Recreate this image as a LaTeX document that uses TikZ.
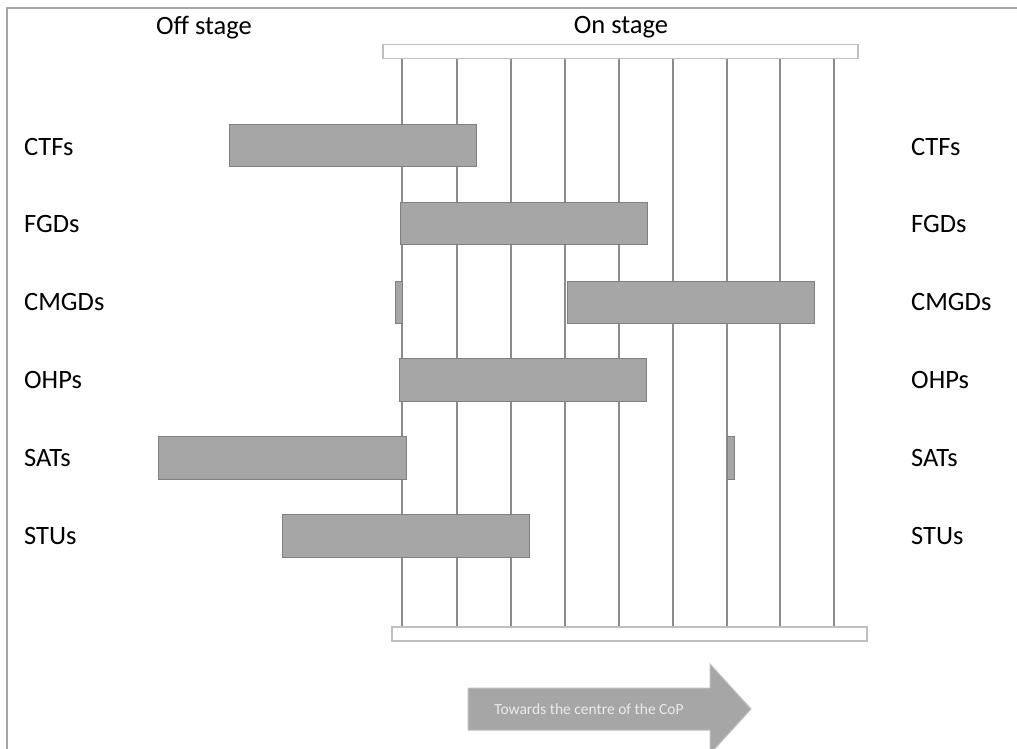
\documentclass[tikz,border=0pt]{standalone}
\usepackage{fontspec}
\setmainfont{Carlito}
\begin{document}
\begin{tikzpicture}[x=1pt,y=-1pt,
  bar/.style={draw=black!50,fill=black!35,line width=1pt},
  plank/.style={draw=black!25,fill=white,line width=1.5pt},
  vline/.style={draw=black!45,line width=2pt},
  lab/.style={font=\fontsize{26.5}{30}\selectfont,anchor=west,inner sep=0pt},
  head/.style={font=\fontsize{26.5}{30}\selectfont,inner sep=0pt}]
\useasboundingbox (0,0) rectangle (1017,749);
\draw[black!35,line width=2pt] (6.5,749) -- (6.5,8.5) -- (1017,8.5);
% vertical lines
\foreach \x/\n in {402/a,457/b,511/c,565/d,619/e,673/f,727/g,780/h,834/i}{
  \coordinate (t\n) at (\x,59);
  \coordinate (b\n) at (\x,627);
  \draw[vline] (t\n) -- (b\n);
}
% planks
\node[plank,minimum width=475pt,minimum height=14pt,inner sep=0pt] (top) at (620.5,51.5) {};
\node[plank,minimum width=475pt,minimum height=14pt,inner sep=0pt] (bot) at (629.5,634) {};
% headings
\node[head] (off) at (204,28) {Off stage};
\node[head] (on) at (621,27) {On stage};
% labels
\foreach \t/\y/\n in {CTFs/147/1,FGDs/224/2,CMGDs/302/3,OHPs/380/4,SATs/458/5,STUs/536/6}{
  \node[lab] (l\n) at (24,\y) {\t};
  \node[lab] (r\n) at (911,\y) {\t};
}
% bars
\draw[bar] (229,124.5) rectangle (476,166.5);
\draw[bar] (400,202) rectangle (647,244.5);
\draw[bar] (395,281) rectangle (402.5,323.5);
\draw[bar] (567,281) rectangle (814,323.5);
\draw[bar] (399,358.5) rectangle (646,401);
\draw[bar] (158.5,436.5) rectangle (406,479);
\draw[bar] (727,436) rectangle (734,479);
\draw[bar] (282,514.5) rectangle (529,557);
% arrow
\draw[draw=black!25,fill=black!35,line width=1pt] (468,688) -- (710,688) -- (710,664) -- (751,709) -- (710,754) -- (710,730) -- (468,730) -- cycle;
\node[font=\fontsize{15.5}{18}\selectfont,text=white!92!black,inner sep=0pt] (arrtxt) at (589,709) {Towards the centre of the CoP};
\end{tikzpicture}
\end{document}
